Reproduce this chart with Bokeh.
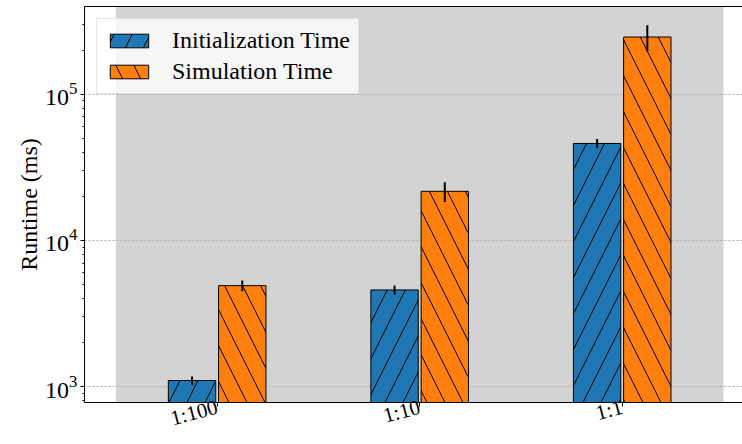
import numpy as np
from bokeh.plotting import figure
from bokeh.models import (Range1d, FixedTicker, BoxAnnotation, LinearAxis,
                          ColumnDataSource, LogTickFormatter)
from bokeh.embed import file_html
from bokeh.resources import INLINE

# ---- data ----
categories = ["1:100", "1:10", "1:1"]
series_names = ["Initialization Time", "Simulation Time"]
init_time = [1100, 4580, 46000]
init_err = [70, 330, 3350]
sim_time = [4900, 21650, 246000]
sim_err = [410, 3350, 50000]
y_major = [1e3, 1e4, 1e5]

FONT = "Liberation Serif"
BLUE = "#1f77b4"
ORANGE = "#ff7f0e"

x = np.arange(len(categories))
offset = 0.124
bar_w = 0.234

p = figure(width=742, height=444, y_axis_type="log",
           x_range=Range1d(-0.655, 2.594), y_range=Range1d(778, 397700),
           output_backend="svg", toolbar_location=None,
           min_border_left=84, min_border_right=0, min_border_top=6,
           min_border_bottom=38)
p.outline_line_color = None
p.background_fill_color = "white"

band = BoxAnnotation(left=-0.5, right=2.5, fill_color="#d3d3d3", fill_alpha=1.0,
                     line_color=None, level="image")
p.add_layout(band)

def add_series(vals, errs, xs, color, hatch, name):
    lo = [v - e for v, e in zip(vals, errs)]
    hi = [v + e for v, e in zip(vals, errs)]
    src = ColumnDataSource(dict(x=xs, top=vals, lo=lo, hi=hi))
    p.vbar(x="x", top="top", bottom=1, width=bar_w, source=src,
           fill_color=color, line_color="black", line_width=1,
           hatch_pattern=hatch, hatch_color="black", hatch_scale=36,
           hatch_weight=1, legend_label=name)
    p.segment(x0="x", x1="x", y0="lo", y1="hi", source=src,
              line_color="black", line_width=2)

add_series(init_time, init_err, list(x - offset), BLUE, "/", series_names[0])
add_series(sim_time, sim_err, list(x + offset), ORANGE, "\\", series_names[1])

# grid
p.xgrid.visible = False
p.ygrid.ticker = FixedTicker(ticks=y_major)
p.ygrid.grid_line_color = "#aaaaaa"
p.ygrid.grid_line_dash = "2 2"
p.ygrid.grid_line_width = 1

# y axis
minor = [m * 10 ** e for e in range(2, 6) for m in range(2, 10)]
p.yaxis.ticker = FixedTicker(ticks=y_major, minor_ticks=minor)
p.yaxis.formatter = LogTickFormatter()
p.yaxis.axis_label = "Runtime (ms)"
p.yaxis.axis_label_text_font = FONT
p.yaxis.axis_label_text_font_size = "24px"
p.yaxis.axis_label_text_font_style = "normal"
p.yaxis.axis_label_text_color = "black"
p.yaxis.axis_label_standoff = 0
p.yaxis.major_label_text_font = FONT
p.yaxis.major_label_text_font_size = "24px"
p.yaxis.major_label_text_color = "black"
p.yaxis.major_label_standoff = 3
p.yaxis.major_tick_out = 4
p.yaxis.major_tick_in = 0
p.yaxis.minor_tick_out = 2
p.yaxis.minor_tick_in = 0
p.yaxis.axis_line_color = "black"
p.yaxis.major_tick_line_color = "black"
p.yaxis.minor_tick_line_color = "black"

# x axis
p.xaxis.ticker = FixedTicker(ticks=list(x))
p.xaxis.major_label_overrides = {int(i): c for i, c in zip(x, categories)}
p.xaxis.major_label_orientation = 0.26
p.xaxis.major_label_text_font = FONT
p.xaxis.major_label_text_font_size = "21px"
p.xaxis.major_label_text_color = "black"
p.xaxis.major_label_standoff = 0
p.xaxis.major_tick_out = 4
p.xaxis.major_tick_in = 0
p.xaxis.minor_tick_out = 0
p.xaxis.axis_line_color = "black"
p.xaxis.major_tick_line_color = "black"

# top spine
top_axis = LinearAxis(ticker=FixedTicker(ticks=[]), major_label_text_font_size="0px",
                      major_tick_out=0, major_tick_in=0, minor_tick_out=0,
                      minor_tick_in=0, major_label_standoff=0,
                      axis_line_color="black", axis_line_width=1)
p.add_layout(top_axis, "above")

# legend
lg = p.legend[0]
lg.location = "top_left"
lg.margin = 12
lg.padding = 8
lg.spacing = 4
lg.glyph_width = 48
lg.glyph_height = 17
lg.label_standoff = 19
lg.label_text_font = FONT
lg.label_text_font_size = "24px"
lg.label_text_color = "black"
lg.border_line_color = "#cccccc"
lg.border_line_width = 1
lg.background_fill_color = "white"
lg.background_fill_alpha = 0.8

open("out.html", "w").write(file_html(p, INLINE))
